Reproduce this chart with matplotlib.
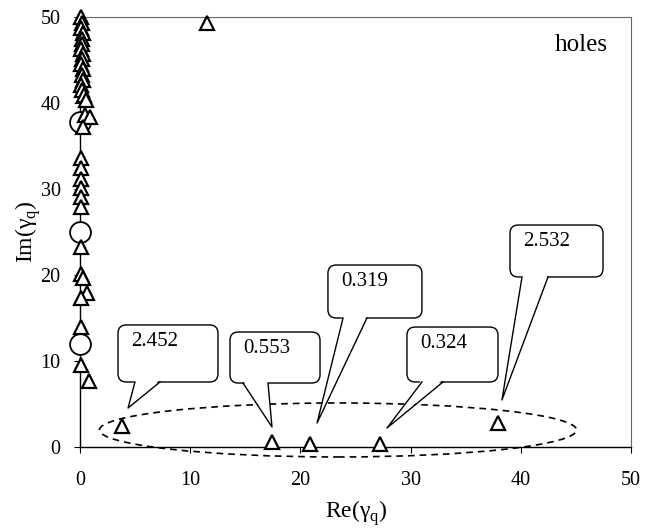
import matplotlib
matplotlib.use("Agg")
import matplotlib.pyplot as plt
from matplotlib.patches import FancyBboxPatch, Polygon, Ellipse
import numpy as np

plt.rcParams['font.family'] = ['Liberation Serif', 'DejaVu Serif']
plt.rcParams['mathtext.fontset'] = 'custom'
plt.rcParams['mathtext.rm'] = 'Liberation Serif'

# Triangles (Re, Im)
tri_x = [0.05, 0.2, 0.1, 0.3, 0.15, 0.2, 0.1, 0.3, 0.2, 0.1, 0.25, 0.15, 0.3, 0.1, 0.2, 0.35, 0.5,
         0.45, 0.9, 0.3,
         0.1, 0.1, 0.1, 0.1, 0.1, 0.1,
         0.1, 0.1, 0.3, 0.6, 0.1, 0.1, 0.1, 0.8,
         11.5,
         3.8, 17.4, 20.9, 27.2, 37.9]
tri_y = [50.0, 49.3, 48.7, 48.1, 47.5, 46.9, 46.3, 45.7, 45.1, 44.5, 43.9, 43.3, 42.7, 42.1, 41.5, 40.9, 40.3,
         38.6, 38.4, 37.2,
         33.6, 32.4, 31.2, 30.1, 29.1, 27.9,
         23.3, 20.1, 19.6, 17.9, 17.3, 14.0, 9.5, 7.7,
         49.3,
         2.4, 0.6, 0.4, 0.4, 2.8]
# Circles
circ_x = [0.0, 0.0, 0.0]
circ_y = [37.8, 25.0, 12.0]

# Callout labels
call_labels = ["2.452", "0.553", "0.319", "0.324", "2.532"]
# box: (x0, x1, y0, y1), wedge base (xa, xb), tip (xt, yt)
call_boxes = [(3.45, 12.52, 7.56, 14.19), (13.61, 21.78, 7.44, 13.37), (22.50, 31.03, 15.0, 21.16),
              (29.67, 37.93, 7.56, 13.95), (39.02, 47.46, 19.77, 25.81)]
call_base = [(4.99, 7.26), (14.79, 17.06), (23.87, 26.04), (31.03, 32.94), (40.11, 42.47)]
call_tip = [(4.36, 4.53), (17.42, 2.33), (21.51, 2.79), (27.86, 2.21), (38.29, 5.47)]

xticks = [0, 10, 20, 30, 40, 50]
yticks = [0, 10, 20, 30, 40, 50]

W, H = 665, 529
fig = plt.figure(figsize=(W/100, H/100), dpi=100)
ax = fig.add_axes([80/W, 1-447/H, (631-80)/W, (447-17)/H])
ax.set_xlim(0, 50)
ax.set_ylim(0, 50)

ax.plot(circ_x, circ_y, linestyle='none', marker='o', ms=15, mfc='white', mec='black', mew=1.3,
        clip_on=False, zorder=3)
ax.plot(tri_x, tri_y, linestyle='none', marker='^', ms=9.5, mfc='white', mec='black', mew=1.6,
        clip_on=False, zorder=4)

aspect = (551/50) / (430/50)
for lab, (x0, x1, y0, y1), (xa, xb), (xt, yt) in zip(call_labels, call_boxes, call_base, call_tip):
    box = FancyBboxPatch((x0, y0), x1-x0, y1-y0,
                         boxstyle="round,pad=0,rounding_size=0.75", mutation_aspect=aspect,
                         fc='white', ec='black', lw=1.0, zorder=5, clip_on=False)
    ax.add_patch(box)
    wedge = Polygon([(xa, y0+0.3), (xt, yt), (xb, y0+0.3)], closed=True, fc='white', ec='none',
                    zorder=6, clip_on=False)
    ax.add_patch(wedge)
    ax.plot([xa, xt, xb], [y0, yt, y0], color='black', lw=1.0, zorder=7, clip_on=False)
    ax.text(x0 + 1.2, y1 - 1.9, lab, fontsize=15, ha='left', va='center', zorder=8)

ell = Ellipse((23.41, 1.98), 43.3, 6.28, fill=False, ec='black', lw=1.2, ls=(0, (4, 3)),
              zorder=2, clip_on=False)
ax.add_patch(ell)

ax.text(43.1, 46.7, "holes", fontsize=18, ha='left', va='center')

ax.set_xticks(xticks)
ax.set_yticks(yticks)
ax.tick_params(direction='out', length=4, width=0.8, labelsize=14.5)
ax.tick_params(axis='x', pad=13)
ax.tick_params(axis='y', pad=10)
for s in ['top', 'right']:
    ax.spines[s].set_color('#666666')
    ax.spines[s].set_linewidth(0.8)
for s in ['left', 'bottom']:
    ax.spines[s].set_linewidth(1.0)
ax.tick_params(top=False, right=False)

ax.set_xlabel("Re(γ$_{\\mathrm{q}}$)", fontsize=17)
ax.set_ylabel("Im(γ$_{\\mathrm{q}}$)", fontsize=17)
ax.xaxis.set_label_coords(0.502, -0.12)
ax.yaxis.set_label_coords(-0.068, 0.5)

fig.savefig("out.png", dpi=100)
